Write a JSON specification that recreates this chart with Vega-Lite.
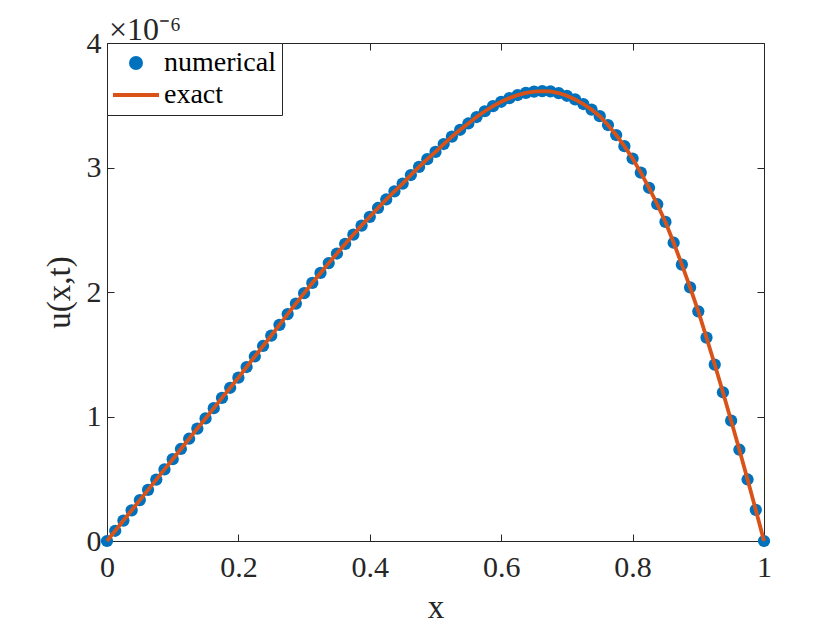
{
  "$schema": "https://vega.github.io/schema/vega-lite/v6.json",
  "autosize": {"type": "none"},
  "width": 657,
  "height": 498,
  "padding": {"left": 107, "top": 43, "right": 76, "bottom": 86},
  "background": "white",
  "title": {
    "text": "×10⁻⁶",
    "anchor": "start",
    "frame": "group",
    "orient": "top",
    "offset": -30,
    "dx": 2,
    "dy": 14,
    "baseline": "alphabetic",
    "font": "Times New Roman, Liberation Serif, serif",
    "fontSize": 32,
    "fontWeight": "normal",
    "color": "#262626"
  },
  "data": {
    "values": [
      {"x": 0, "u": 0},
      {"x": 0.0125, "u": 0.0820},
      {"x": 0.025, "u": 0.1642},
      {"x": 0.0375, "u": 0.2465},
      {"x": 0.05, "u": 0.3287},
      {"x": 0.0625, "u": 0.4110},
      {"x": 0.075, "u": 0.4933},
      {"x": 0.0875, "u": 0.5753},
      {"x": 0.1, "u": 0.6570},
      {"x": 0.1125, "u": 0.7393},
      {"x": 0.125, "u": 0.8214},
      {"x": 0.1375, "u": 0.9031},
      {"x": 0.15, "u": 0.9843},
      {"x": 0.1625, "u": 1.0670},
      {"x": 0.175, "u": 1.1492},
      {"x": 0.1875, "u": 1.2309},
      {"x": 0.2, "u": 1.3120},
      {"x": 0.2125, "u": 1.3973},
      {"x": 0.225, "u": 1.4822},
      {"x": 0.2375, "u": 1.5665},
      {"x": 0.25, "u": 1.6500},
      {"x": 0.2625, "u": 1.7365},
      {"x": 0.275, "u": 1.8223},
      {"x": 0.2875, "u": 1.9071},
      {"x": 0.3, "u": 1.9908},
      {"x": 0.3125, "u": 2.0727},
      {"x": 0.325, "u": 2.1532},
      {"x": 0.3375, "u": 2.2320},
      {"x": 0.35, "u": 2.3091},
      {"x": 0.3625, "u": 2.3860},
      {"x": 0.375, "u": 2.4609},
      {"x": 0.3875, "u": 2.5336},
      {"x": 0.4, "u": 2.6040},
      {"x": 0.4125, "u": 2.6749},
      {"x": 0.425, "u": 2.7431},
      {"x": 0.4375, "u": 2.8085},
      {"x": 0.45, "u": 2.8710},
      {"x": 0.4625, "u": 2.9396},
      {"x": 0.475, "u": 3.0050},
      {"x": 0.4875, "u": 3.0668},
      {"x": 0.5, "u": 3.1250},
      {"x": 0.5125, "u": 3.1886},
      {"x": 0.525, "u": 3.2481},
      {"x": 0.5375, "u": 3.3032},
      {"x": 0.55, "u": 3.3536},
      {"x": 0.5625, "u": 3.4053},
      {"x": 0.575, "u": 3.4518},
      {"x": 0.5875, "u": 3.4928},
      {"x": 0.6, "u": 3.5280},
      {"x": 0.6125, "u": 3.5572},
      {"x": 0.625, "u": 3.5820},
      {"x": 0.6375, "u": 3.5990},
      {"x": 0.65, "u": 3.6095},
      {"x": 0.6625, "u": 3.6140},
      {"x": 0.675, "u": 3.6110},
      {"x": 0.6875, "u": 3.5980},
      {"x": 0.7, "u": 3.5760},
      {"x": 0.7125, "u": 3.5470},
      {"x": 0.725, "u": 3.5100},
      {"x": 0.7375, "u": 3.4653},
      {"x": 0.75, "u": 3.4125},
      {"x": 0.7625, "u": 3.3412},
      {"x": 0.775, "u": 3.2608},
      {"x": 0.7875, "u": 3.1712},
      {"x": 0.8, "u": 3.0720},
      {"x": 0.8125, "u": 2.9593},
      {"x": 0.825, "u": 2.8370},
      {"x": 0.8375, "u": 2.7049},
      {"x": 0.85, "u": 2.5628},
      {"x": 0.8625, "u": 2.3956},
      {"x": 0.875, "u": 2.2203},
      {"x": 0.8875, "u": 2.0368},
      {"x": 0.9, "u": 1.8450},
      {"x": 0.9125, "u": 1.6336},
      {"x": 0.925, "u": 1.4173},
      {"x": 0.9375, "u": 1.1947},
      {"x": 0.95, "u": 0.9666},
      {"x": 0.9625, "u": 0.7331},
      {"x": 0.975, "u": 0.4943},
      {"x": 0.9875, "u": 0.2498},
      {"x": 1, "u": 0}
    ]
  },
  "layer": [
    {
      "mark": {"type": "point", "filled": true, "size": 150, "opacity": 1},
      "encoding": {
        "x": {
          "field": "x",
          "type": "quantitative",
          "scale": {"domain": [0, 1], "nice": false, "zero": false},
          "axis": {
            "orient": "bottom",
            "title": "x",
            "values": [0, 0.2, 0.4, 0.6, 0.8, 1],
            "format": "~g",
            "labelFlush": false,
            "labelPadding": 18,
            "titlePadding": 9
          }
        },
        "y": {
          "field": "u",
          "type": "quantitative",
          "scale": {"domain": [0, 4], "nice": false, "zero": false},
          "axis": {
            "orient": "left",
            "title": "u(x,t)",
            "values": [0, 1, 2, 3, 4],
            "format": "~g",
            "labelFlush": false,
            "labelPadding": 13,
            "titlePadding": 10
          }
        },
        "fill": {
          "datum": "numerical",
          "type": "nominal",
          "scale": {"domain": ["numerical", "exact"], "range": ["#0072BD", "#D95319"]},
          "legend": {"title": null}
        },
        "shape": {
          "datum": "numerical",
          "type": "nominal",
          "scale": {"domain": ["numerical", "exact"], "range": ["circle", "M-4.6,0L4.6,0"]},
          "legend": {"title": null}
        }
      }
    },
    {
      "mark": {"type": "line", "strokeWidth": 3.8},
      "encoding": {
        "stroke": {
          "datum": "exact",
          "type": "nominal",
          "scale": {"domain": ["numerical", "exact"], "range": ["#0072BD", "#D95319"]},
          "legend": {"title": null}
        },
        "x": {
          "field": "x",
          "type": "quantitative",
          "axis": {
            "orient": "top",
            "title": null,
            "labels": false,
            "values": [0, 0.2, 0.4, 0.6, 0.8, 1]
          }
        },
        "y": {
          "field": "u",
          "type": "quantitative",
          "axis": {
            "orient": "right",
            "title": null,
            "labels": false,
            "values": [0, 1, 2, 3, 4]
          }
        }
      }
    }
  ],
  "resolve": {"axis": {"x": "independent", "y": "independent"}},
  "config": {
    "view": {"stroke": null},
    "axis": {
      "grid": false,
      "domainColor": "#262626",
      "domainWidth": 1,
      "tickColor": "#262626",
      "tickWidth": 1,
      "tickSize": -7,
      "labelColor": "#262626",
      "titleColor": "#262626",
      "labelFont": "Times New Roman, Liberation Serif, serif",
      "titleFont": "Times New Roman, Liberation Serif, serif",
      "labelFontSize": 30,
      "titleFontSize": 33,
      "titleFontWeight": "normal"
    },
    "legend": {
      "orient": "top-left",
      "offset": 0,
      "padding": 6,
      "rowPadding": 4,
      "strokeColor": "#262626",
      "fillColor": "white",
      "symbolSize": 100,
      "symbolStrokeWidth": 4,
      "symbolOpacity": 1,
      "symbolOffset": 9,
      "labelOffset": 14,
      "labelFont": "Times New Roman, Liberation Serif, serif",
      "labelFontSize": 28,
      "labelColor": "#000000",
      "labelLimit": 300
    }
  }
}
